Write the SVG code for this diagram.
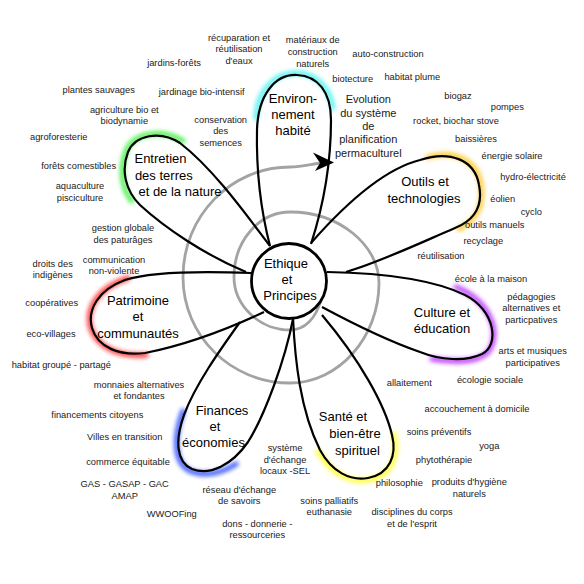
<svg xmlns="http://www.w3.org/2000/svg" width="584" height="584" viewBox="0 0 584 584">
<style>
text{font-family:"Liberation Sans",Arial,sans-serif;fill:#1a1a1a;text-anchor:middle}
.s{font-size:9.3px}
.m{font-size:11px}
.l{font-size:13px;fill:#000}
.petal{fill:none;stroke:#000;stroke-width:2.2;stroke-linejoin:round}
.glow{fill:none;stroke-width:5;stroke-linecap:round;filter:url(#blur);opacity:0.85}
.spiral{fill:none;stroke:#a3a3a3;stroke-width:2.8}
</style>
<defs>
<filter id="blur" x="-50%" y="-50%" width="200%" height="200%"><feGaussianBlur stdDeviation="1.9"/></filter>
</defs>
<rect width="584" height="584" fill="#fff"/>

<g id="connectors">
<path class="spiral" d="M321,300 C316,318 305,330 290,330 C259,330 234,305 234,277 C234,241 259,212 290,212 C339,212 379,245 379,283 C379,337 339,383 290,383 C231,383 183,336 183,277 C183,216 231,167 290,167 C302,167 312,164 322,163"/>
<path d="M334,162.5 L313,152.5 L320,163 L315,171 Z" fill="#000"/>
</g>

<g id="petal-environnement">
<path class="glow" stroke="#3ff0f0" d="M256,118 C257,90 276,72 297,73 C316,74 330,87 333,108"/>
<path class="petal" d="M270,246 C262,215 256,180 257,130 C258,95 275,74 297,75 C318,76 331,92 331,120 C331,165 322,210 311,244"/>
<text class="l" x="293" y="102.6">Environ-</text>
<text class="l" x="293" y="118.9">nement</text>
<text class="l" x="293" y="135.3">habité</text>
</g>

<g id="petal-outils">
<path class="glow" stroke="#ffc21a" d="M428,157 C455,149 478,161 481,185 C484,206 477,220 459,229"/>
<path class="petal" d="M311,243 C340,210 380,170 420,160 C450,150 475,160 479,185 C483,205 475,220 455,228 C420,243 380,262 346,272"/>
<text class="l" x="425" y="186.3">Outils et</text>
<text class="l" x="424" y="202.9">technologies</text>
</g>

<g id="petal-culture">
<path class="glow" stroke="#b422ff" d="M456,287 C490,301 501,331 489,351 C480,362 460,363 432,359"/>
<path class="petal" d="M327,272 C380,273 430,278 465,295 C495,310 500,345 482,354 C465,362 440,360 420,352 C385,340 350,322 322,307"/>
<text class="l" x="442" y="316.6">Culture et</text>
<text class="l" x="442" y="332.6">éducation</text>
</g>

<g id="petal-sante">
<path class="glow" stroke="#ffff1a" d="M318,451 C331,475 351,483 369,480 C391,476 399,457 394,434"/>
<path class="petal" d="M293,318 C295,360 300,410 320,450 C332,472 350,481 368,478 C390,474 397,455 392,435 C385,405 360,360 322,315"/>
<text class="l" x="343" y="421.3">Santé et</text>
<text class="l" x="355" y="437.9">bien-être</text>
<text class="l" x="357.5" y="454.6">spirituel</text>
</g>

<g id="petal-finances">
<path class="glow" stroke="#1a3cff" d="M183,411 C173,438 174,463 190,471 C205,477 222,473 236,464"/>
<path class="petal" d="M240,322 C220,350 195,385 184,415 C175,440 176,462 192,469 C210,476 232,465 248,442 C265,415 285,360 293,319"/>
<text class="l" x="222" y="414.6">Finances</text>
<text class="l" x="215" y="430.6">et</text>
<text class="l" x="213.5" y="446.6">économies</text>
</g>

<g id="petal-patrimoine">
<path class="glow" stroke="#ff1a1a" d="M128,278 C100,287 86,306 90,326 C96,346 116,357 146,355"/>
<path class="petal" d="M251,273 C200,271 150,272 125,280 C98,290 87,310 92,328 C98,348 120,356 145,353 C185,345 230,328 264,312"/>
<text class="l" x="138" y="304.6">Patrimoine</text>
<text class="l" x="138" y="321.3">et</text>
<text class="l" x="138" y="337.9">communautés</text>
</g>

<g id="petal-entretien">
<path class="glow" stroke="#33ee33" d="M183,141 C161,128 133,133 126,151 C119,170 122,190 132,201"/>
<path class="petal" d="M270,246 C250,220 215,170 180,143 C160,130 135,135 128,152 C121,170 125,190 140,205 C165,228 205,255 246,272"/>
<text class="l" x="160.5" y="162.9">Entretien</text>
<text class="l" x="163.8" y="179.6">des terres</text>
<text class="l" x="180" y="196.3">et de la nature</text>
</g>

<g id="center">
<circle cx="289" cy="281" r="37.5" fill="#fff" stroke="#000" stroke-width="2.8"/>
<text class="l" x="286" y="267.6">Ethique</text>
<text class="l" x="287" y="283.9">et</text>
<text class="l" x="290" y="299.6">Principes</text>
</g>

<g id="evolution">
<text class="m" x="368.3" y="102.9">Evolution</text>
<text class="m" x="368.3" y="116.6">du système</text>
<text class="m" x="368.3" y="129.9">de</text>
<text class="m" x="368.3" y="143.2">planification</text>
<text class="m" x="368.3" y="156.6">permaculturel</text>
</g>

<g id="labels">
<text class="s" x="239" y="40.6">récuparation et</text>
<text class="s" x="239" y="52.3">réutilisation</text>
<text class="s" x="239" y="64">d'eaux</text>
<text class="s" x="174" y="65.6">jardins-forêts</text>
<text class="s" x="98.7" y="93.3">plantes sauvages</text>
<text class="s" x="201.7" y="95.3">jardinage bio-intensif</text>
<text class="s" x="124.3" y="112.6">agriculture bio et</text>
<text class="s" x="124.3" y="124">biodynamie</text>
<text class="s" x="220.7" y="122.6">conservation</text>
<text class="s" x="220.7" y="134.3">des</text>
<text class="s" x="220.7" y="146">semences</text>
<text class="s" x="58.7" y="140">agroforesterie</text>
<text class="s" x="78.7" y="169">forêts comestibles</text>
<text class="s" x="80" y="189.3">aquaculture</text>
<text class="s" x="80" y="201">pisciculture</text>
<text class="s" x="312.7" y="43.3">matériaux de</text>
<text class="s" x="312.7" y="55">construction</text>
<text class="s" x="312.7" y="66.7">naturels</text>
<text class="s" x="388" y="57.3">auto-construction</text>
<text class="s" x="352.7" y="82.3">biotecture</text>
<text class="s" x="412.3" y="80.3">habitat plume</text>
<text class="s" x="458" y="99.3">biogaz</text>
<text class="s" x="507.3" y="110.3">pompes</text>
<text class="s" x="456" y="124">rocket, biochar stove</text>
<text class="s" x="476" y="142">baissières</text>
<text class="s" x="512" y="158.6">énergie solaire</text>
<text class="s" x="533" y="180">hydro-électricité</text>
<text class="s" x="502.7" y="201.6">éolien</text>
<text class="s" x="531.3" y="215">cyclo</text>
<text class="s" x="494.7" y="228.3">outils manuels</text>
<text class="s" x="483.3" y="244">recyclage</text>
<text class="s" x="441" y="259">réutilisation</text>
<text class="s" x="491" y="282.3">école à la maison</text>
<text class="s" x="531.3" y="300">pédagogies</text>
<text class="s" x="531.3" y="311.3">alternatives et</text>
<text class="s" x="531.3" y="322.6">particpatives</text>
<text class="s" x="532.7" y="354.3">arts et musiques</text>
<text class="s" x="532.7" y="365.6">participatives</text>
<text class="s" x="490" y="382.6">écologie sociale</text>
<text class="s" x="409.3" y="386">allaitement</text>
<text class="s" x="123" y="231.3">gestion globale</text>
<text class="s" x="123" y="243">des paturâges</text>
<text class="s" x="52.7" y="266.6">droits des</text>
<text class="s" x="52.7" y="278.3">indigènes</text>
<text class="s" x="114" y="263.3">communication</text>
<text class="s" x="114" y="274">non-violente</text>
<text class="s" x="51.7" y="306">coopératives</text>
<text class="s" x="51" y="337.3">eco-villages</text>
<text class="s" x="61.3" y="368">habitat groupé - partagé</text>
<text class="s" x="139" y="387.6">monnaies alternatives</text>
<text class="s" x="139" y="399.3">et fondantes</text>
<text class="s" x="97.3" y="417.6">financements citoyens</text>
<text class="s" x="124.7" y="440">Villes en transition</text>
<text class="s" x="128" y="465.3">commerce équitable</text>
<text class="s" x="124.7" y="487.3">GAS - GASAP - GAC</text>
<text class="s" x="124.7" y="499">AMAP</text>
<text class="s" x="171.7" y="517.3">WWOOFing</text>
<text class="s" x="239.3" y="492.6">réseau d'échange</text>
<text class="s" x="239.3" y="504.3">de savoirs</text>
<text class="s" x="257.3" y="526.6">dons - donnerie -</text>
<text class="s" x="257.3" y="538">ressourceries</text>
<text class="s" x="285" y="450.6">système</text>
<text class="s" x="285" y="462.6">d'échange</text>
<text class="s" x="285" y="474.3">locaux -SEL</text>
<text class="s" x="477" y="412.3">accouchement à domicile</text>
<text class="s" x="439" y="434.6">soins préventifs</text>
<text class="s" x="489.3" y="449.3">yoga</text>
<text class="s" x="444" y="463.3">phytothérapie</text>
<text class="s" x="399.3" y="486">philosophie</text>
<text class="s" x="469.3" y="485.3">produits d'hygiène</text>
<text class="s" x="469.3" y="497">naturels</text>
<text class="s" x="329.3" y="503.6">soins palliatifs</text>
<text class="s" x="329.3" y="515.3">euthanasie</text>
<text class="s" x="412" y="515.3">disciplines du corps</text>
<text class="s" x="412" y="527">et de l'esprit</text>
</g>
</svg>
